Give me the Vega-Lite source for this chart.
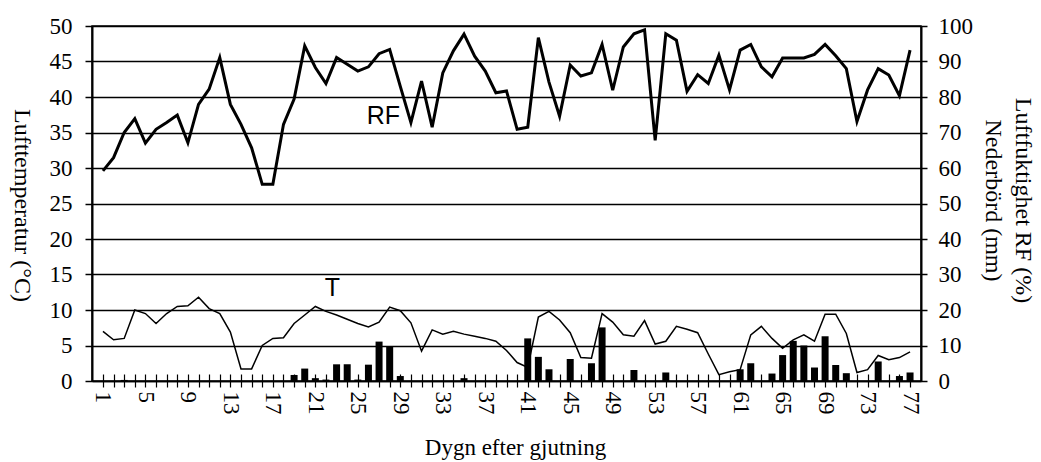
{
  "$schema": "https://vega.github.io/schema/vega-lite/v6.json",
  "width": 829,
  "height": 355,
  "autosize": {"type": "none"},
  "padding": {"left": 92, "top": 26, "right": 120, "bottom": 81},
  "background": "white",
  "config": {
    "view": {"stroke": "black", "strokeWidth": 1.5},
    "font": "Liberation Serif",
    "axis": {"labelColor": "black", "titleColor": "black", "labelFont": "Liberation Serif", "titleFont": "Liberation Serif", "titleFontWeight": "normal"}
  },
  "data": {
    "values": [
      {"day": 1, "T": 7.0, "RF": 59.2, "mm": 0},
      {"day": 2, "T": 5.8, "RF": 62.9, "mm": 0},
      {"day": 3, "T": 6.0, "RF": 70.0, "mm": 0.3},
      {"day": 4, "T": 10.0, "RF": 73.9, "mm": 0},
      {"day": 5, "T": 9.5, "RF": 67.0, "mm": 0},
      {"day": 6, "T": 8.1, "RF": 70.9, "mm": 0},
      {"day": 7, "T": 9.5, "RF": 72.8, "mm": 0},
      {"day": 8, "T": 10.5, "RF": 74.9, "mm": 0},
      {"day": 9, "T": 10.6, "RF": 67.1, "mm": 0},
      {"day": 10, "T": 11.8, "RF": 77.9, "mm": 0},
      {"day": 11, "T": 10.2, "RF": 82.2, "mm": 0},
      {"day": 12, "T": 9.5, "RF": 91.1, "mm": 0},
      {"day": 13, "T": 6.9, "RF": 77.9, "mm": 0},
      {"day": 14, "T": 1.7, "RF": 72.3, "mm": 0},
      {"day": 15, "T": 1.7, "RF": 65.7, "mm": 0},
      {"day": 16, "T": 5.0, "RF": 55.4, "mm": 0},
      {"day": 17, "T": 6.0, "RF": 55.4, "mm": 0},
      {"day": 18, "T": 6.1, "RF": 72.3, "mm": 0},
      {"day": 19, "T": 8.1, "RF": 79.4, "mm": 1.7},
      {"day": 20, "T": 9.3, "RF": 94.4, "mm": 3.5},
      {"day": 21, "T": 10.5, "RF": 88.3, "mm": 0.8},
      {"day": 22, "T": 9.8, "RF": 83.8, "mm": 0.4},
      {"day": 23, "T": 9.3, "RF": 91.1, "mm": 4.7},
      {"day": 24, "T": 8.7, "RF": 89.2, "mm": 4.7},
      {"day": 25, "T": 8.1, "RF": 87.3, "mm": 0.4},
      {"day": 26, "T": 7.6, "RF": 88.5, "mm": 4.6},
      {"day": 27, "T": 8.3, "RF": 92.2, "mm": 11.1},
      {"day": 28, "T": 10.4, "RF": 93.4, "mm": 9.8},
      {"day": 29, "T": 9.9, "RF": 83.0, "mm": 1.4},
      {"day": 30, "T": 8.2, "RF": 72.8, "mm": 0},
      {"day": 31, "T": 4.2, "RF": 84.5, "mm": 0},
      {"day": 32, "T": 7.2, "RF": 71.5, "mm": 0},
      {"day": 33, "T": 6.6, "RF": 86.8, "mm": 0},
      {"day": 34, "T": 7.0, "RF": 93.0, "mm": 0},
      {"day": 35, "T": 6.6, "RF": 97.7, "mm": 0.8},
      {"day": 36, "T": 6.3, "RF": 91.5, "mm": 0},
      {"day": 37, "T": 6.0, "RF": 87.3, "mm": 0},
      {"day": 38, "T": 5.6, "RF": 81.2, "mm": 0},
      {"day": 39, "T": 4.3, "RF": 81.7, "mm": 0},
      {"day": 40, "T": 2.6, "RF": 70.9, "mm": 0},
      {"day": 41, "T": 1.9, "RF": 71.5, "mm": 12.0},
      {"day": 42, "T": 9.0, "RF": 96.7, "mm": 6.8},
      {"day": 43, "T": 9.8, "RF": 84.2, "mm": 3.3},
      {"day": 44, "T": 8.6, "RF": 74.6, "mm": 0},
      {"day": 45, "T": 6.8, "RF": 89.0, "mm": 6.2},
      {"day": 46, "T": 3.3, "RF": 85.9, "mm": 0},
      {"day": 47, "T": 3.2, "RF": 86.8, "mm": 5.0},
      {"day": 48, "T": 9.5, "RF": 94.8, "mm": 15.1},
      {"day": 49, "T": 8.3, "RF": 81.9, "mm": 0},
      {"day": 50, "T": 6.5, "RF": 94.1, "mm": 0},
      {"day": 51, "T": 6.3, "RF": 97.8, "mm": 3.1},
      {"day": 52, "T": 8.5, "RF": 98.9, "mm": 0},
      {"day": 53, "T": 5.2, "RF": 67.8, "mm": 0},
      {"day": 54, "T": 5.6, "RF": 97.8, "mm": 2.4},
      {"day": 55, "T": 7.7, "RF": 96.0, "mm": 0},
      {"day": 56, "T": 7.3, "RF": 81.6, "mm": 0},
      {"day": 57, "T": 6.8, "RF": 86.3, "mm": 0},
      {"day": 58, "T": 3.8, "RF": 83.8, "mm": 0},
      {"day": 59, "T": 0.9, "RF": 91.8, "mm": 0},
      {"day": 60, "T": 1.3, "RF": 82.0, "mm": 0},
      {"day": 61, "T": 1.6, "RF": 93.2, "mm": 3.3},
      {"day": 62, "T": 6.5, "RF": 94.8, "mm": 5.0},
      {"day": 63, "T": 7.7, "RF": 88.5, "mm": 0},
      {"day": 64, "T": 6.0, "RF": 85.7, "mm": 2.1},
      {"day": 65, "T": 4.6, "RF": 91.0, "mm": 7.3},
      {"day": 66, "T": 5.8, "RF": 91.0, "mm": 11.3},
      {"day": 67, "T": 6.5, "RF": 91.0, "mm": 10.0},
      {"day": 68, "T": 5.6, "RF": 92.0, "mm": 3.8},
      {"day": 69, "T": 9.4, "RF": 94.8, "mm": 12.6},
      {"day": 70, "T": 9.4, "RF": 91.6, "mm": 4.5},
      {"day": 71, "T": 6.7, "RF": 88.0, "mm": 2.2},
      {"day": 72, "T": 1.2, "RF": 73.1, "mm": 0},
      {"day": 73, "T": 1.6, "RF": 82.0, "mm": 0},
      {"day": 74, "T": 3.6, "RF": 88.0, "mm": 5.5},
      {"day": 75, "T": 3.0, "RF": 86.2, "mm": 0},
      {"day": 76, "T": 3.3, "RF": 80.4, "mm": 1.4},
      {"day": 77, "T": 4.1, "RF": 93.2, "mm": 2.4}
    ]
  },
  "layer": [
    {
      "mark": {"type": "line", "color": "black", "strokeWidth": 1.5},
      "encoding": {
        "x": {"field": "day", "type": "quantitative", "scale": {"domain": [0.44, 77.56], "nice": false, "zero": false},
          "axis": {"orient": "bottom", "values": [1,2,3,4,5,6,7,8,9,10,11,12,13,14,15,16,17,18,19,20,21,22,23,24,25,26,27,28,29,30,31,32,33,34,35,36,37,38,39,40,41,42,43,44,45,46,47,48,49,50,51,52,53,54,55,56,57,58,59,60,61,62,63,64,65,66,67,68,69,70,71,72,73,74,75,76,77],
            "labelExpr": "(datum.value - 1) % 4 == 0 ? datum.label : ''", "labelOverlap": false, "labelAngle": 90, "labelAlign": "left", "labelBaseline": "middle", "labelFontSize": 23, "labelPadding": 4, "labelFont": "Liberation Serif", "labelColor": "black",
            "grid": false, "domainColor": "black", "domainWidth": 1.5, "tickColor": "black", "tickWidth": 1.2, "tickSize": 6,
            "title": "Dygn efter gjutning", "titleFont": "Liberation Serif", "titleFontSize": 23, "titleFontWeight": "normal", "titleColor": "black", "titleX": 423, "titleY": 66, "titleBaseline": "middle", "titleAlign": "center"}},
        "y": {"field": "T", "type": "quantitative", "scale": {"domain": [0, 50], "nice": false},
          "axis": {"orient": "left", "values": [0,5,10,15,20,25,30,35,40,45,50], "labelOverlap": false, "grid": true, "gridColor": "black", "gridWidth": 1.6, "gridOpacity": 1,
            "domainColor": "black", "domainWidth": 2, "tickColor": "black", "tickWidth": 1.5, "tickSize": 7, "labelFontSize": 23, "labelPadding": 13, "labelFont": "Liberation Serif", "labelColor": "black",
            "title": "Lufttemperatur (°C)", "titleFont": "Liberation Serif", "titleFontSize": 24, "titleFontWeight": "normal", "titleColor": "black", "titleAngle": 90, "titleX": -71, "titleY": 179, "titleAlign": "center", "titleBaseline": "middle"}}
      }
    },
    {
      "data": {"values": [{"label": "T", "day": 22.6, "T": 13.1}]},
      "mark": {"type": "text", "font": "Liberation Sans", "fontSize": 25, "color": "black"},
      "encoding": {
        "x": {"field": "day", "type": "quantitative", "scale": {"domain": [0.44, 77.56], "nice": false, "zero": false}, "axis": null},
        "y": {"field": "T", "type": "quantitative", "scale": {"domain": [0, 50], "nice": false}, "axis": null},
        "text": {"field": "label"}
      }
    },
    {
      "transform": [{"filter": "datum.mm > 0"}],
      "mark": {"type": "bar", "color": "black", "size": 7},
      "encoding": {
        "x": {"field": "day", "type": "quantitative", "scale": {"domain": [0.44, 77.56], "nice": false, "zero": false},
          "axis": {"orient": "top", "offset": -355, "values": [1,2,3,4,5,6,7,8,9,10,11,12,13,14,15,16,17,18,19,20,21,22,23,24,25,26,27,28,29,30,31,32,33,34,35,36,37,38,39,40,41,42,43,44,45,46,47,48,49,50,51,52,53,54,55,56,57,58,59,60,61,62,63,64,65,66,67,68,69,70,71,72,73,74,75,76,77],
            "labels": false, "domain": false, "grid": false, "ticks": true, "tickSize": 7, "tickColor": "black", "tickWidth": 1.2, "title": null}},
        "y": {"field": "mm", "type": "quantitative", "scale": {"domain": [0, 100], "nice": false},
          "axis": {"orient": "right", "values": [0,10,20,30,40,50,60,70,80,90,100], "labelOverlap": false, "grid": false,
            "domainColor": "black", "domainWidth": 2, "tickColor": "black", "tickWidth": 1.5, "tickSize": 6, "labelFontSize": 23, "labelPadding": 11, "labelFont": "Liberation Serif", "labelColor": "black",
            "title": ["Luftfuktighet RF (%)", "Nederbörd (mm)"], "titleFont": "Liberation Serif", "titleFontSize": 24, "titleFontWeight": "normal", "titleColor": "black", "titleLineHeight": 30, "titleAngle": 90, "titleX": 101, "titleY": 174, "titleAlign": "center", "titleBaseline": "middle"}}
      }
    },
    {
      "mark": {"type": "line", "color": "black", "strokeWidth": 3},
      "encoding": {
        "x": {"field": "day", "type": "quantitative", "scale": {"domain": [0.44, 77.56], "nice": false, "zero": false}, "axis": null},
        "y": {"field": "RF", "type": "quantitative", "scale": {"domain": [0, 100], "nice": false}, "axis": null}
      }
    },
    {
      "data": {"values": [{"label": "RF", "day": 27.4, "RF": 74.6}]},
      "mark": {"type": "text", "font": "Liberation Sans", "fontSize": 25, "color": "black"},
      "encoding": {
        "x": {"field": "day", "type": "quantitative", "scale": {"domain": [0.44, 77.56], "nice": false, "zero": false}, "axis": null},
        "y": {"field": "RF", "type": "quantitative", "scale": {"domain": [0, 100], "nice": false}, "axis": null},
        "text": {"field": "label"}
      }
    }
  ],
  "resolve": {"scale": {"y": "independent"}, "axis": {"x": "independent", "y": "independent"}}
}
